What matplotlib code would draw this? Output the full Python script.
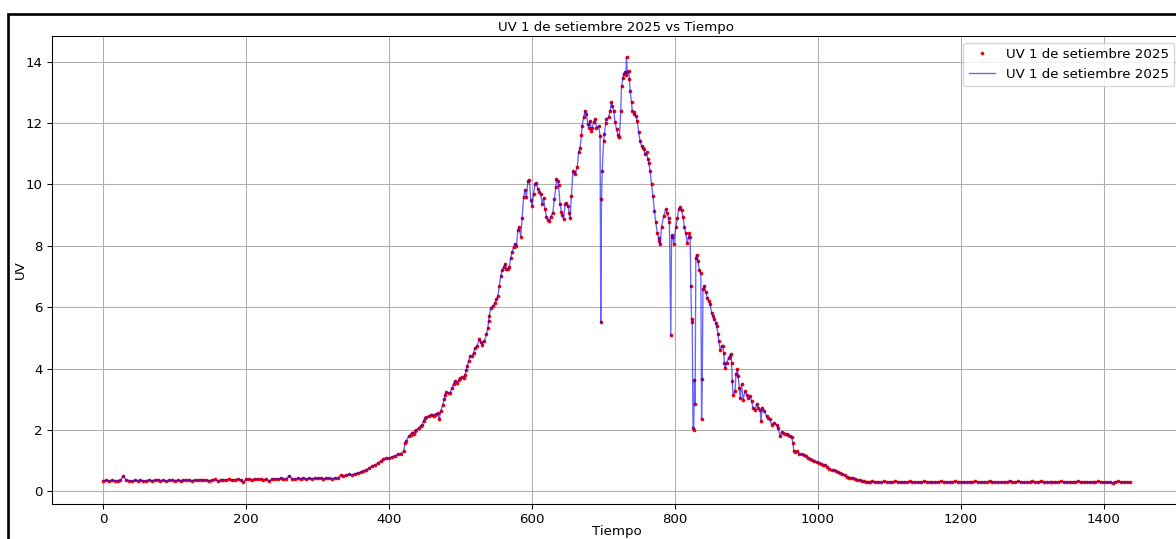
import numpy as np
import matplotlib
matplotlib.use("Agg")
import matplotlib.pyplot as plt
from matplotlib.patches import Rectangle

# ---- data (minutes of the day, UV index) ----
am_start, am_step = 0, 4
am_uv = [0.35, 0.36, 0.33, 0.36, 0.35, 0.34, 0.36, 0.50, 0.36, 0.35, 0.34, 0.36, 0.35, 0.36, 0.34, 0.35,
         0.37, 0.35, 0.36, 0.38, 0.35, 0.36, 0.34, 0.36, 0.37, 0.35, 0.36, 0.34, 0.36, 0.37, 0.36, 0.35,
         0.37, 0.36, 0.38, 0.36, 0.37, 0.35, 0.37, 0.39, 0.32, 0.38, 0.37, 0.38, 0.39, 0.37, 0.38, 0.40,
         0.38, 0.30, 0.39, 0.40, 0.38, 0.41, 0.39, 0.40, 0.38, 0.40, 0.32, 0.40, 0.41, 0.39, 0.42, 0.40,
         0.41, 0.50, 0.41, 0.40, 0.42, 0.41, 0.43, 0.40, 0.42, 0.41, 0.43, 0.42, 0.44, 0.41, 0.43, 0.42,
         0.41, 0.43, 0.42, 0.52, 0.50, 0.53, 0.55, 0.54, 0.57, 0.60, 0.62, 0.66, 0.70, 0.76, 0.82, 0.86,
         0.92, 0.98, 1.04, 1.08, 1.08, 1.12, 1.16, 1.20, 1.23]

day_t = [420, 422, 424, 427, 430, 432, 434, 436, 438, 441, 444, 446, 448, 450, 452, 455, 458, 460, 462, 464,
         466, 468, 470, 472, 475, 477, 478, 480, 483, 485, 488, 490, 492, 495, 497, 499, 502, 504, 506, 508,
         509, 511, 513, 516, 518, 520, 523, 526, 528, 530, 533, 536, 538, 539, 540, 542, 545, 548, 550, 552,
         554, 556, 558, 560, 562, 564, 566, 568, 570, 572, 574, 576, 578, 580, 582, 584, 586, 588, 590, 592,
         594, 596, 598, 600, 602, 604, 606, 608, 610, 612, 614, 616, 618, 620, 622, 624, 626, 629, 631, 633,
         634, 636, 637, 639, 641, 642, 644, 646, 648, 650, 652, 653, 655, 657, 659, 660, 663, 665, 667, 669,
         670, 672, 674, 676, 678, 679, 681, 683, 684, 686, 688, 690, 693, 695, 696, 697, 698, 700, 701, 703,
         704, 707, 709, 711, 712, 714, 716, 718, 720, 721, 722, 724, 725, 727, 728, 730, 731, 732, 733, 735,
         736, 737, 739, 740, 742, 743, 745, 747, 749, 751, 753, 755, 756, 758, 760, 762, 763, 765, 767, 769,
         771, 773, 775, 777, 778, 779, 781, 784, 787, 789, 791, 792, 794, 795, 796, 798, 801, 803, 805, 807,
         809, 811, 813, 815, 817, 819, 820, 821, 822, 823, 824, 825, 826, 827, 828, 829, 830, 832, 834, 836,
         837, 838, 839, 841, 843, 845, 847, 849, 851, 853, 855, 857, 858, 860, 861, 863, 865, 867, 868, 869,
         870, 872, 875, 877, 878, 879, 880, 881, 884, 885, 887, 888, 890, 891, 893, 895, 898, 900, 902, 905,
         907, 909, 912, 914, 916, 919, 920, 922, 925, 928, 930, 933, 935, 938, 942, 944, 947, 949, 951, 954,
         956, 958, 961, 963, 965, 966, 968, 971, 974, 977, 980, 983, 986, 989, 992, 995, 998, 1001, 1004, 1007,
         1010, 1013, 1016, 1019, 1022, 1025, 1028, 1031, 1034, 1037, 1040, 1043, 1046, 1049, 1052, 1055, 1058,
         1061, 1064, 1067, 1070, 1073, 1076]
day_uv = [1.30, 1.57, 1.65, 1.79, 1.85, 1.90, 1.88, 1.95, 2.00, 2.06, 2.12, 2.17, 2.30, 2.39, 2.42, 2.44, 2.48, 2.50, 2.46, 2.50,
          2.52, 2.55, 2.34, 2.61, 2.82, 3.00, 3.15, 3.22, 3.20, 3.20, 3.37, 3.50, 3.59, 3.53, 3.62, 3.69, 3.72, 3.69, 3.80, 3.95,
          4.08, 4.24, 4.40, 4.40, 4.51, 4.67, 4.73, 4.95, 4.85, 4.78, 4.89, 5.11, 5.33, 5.54, 5.71, 5.98, 6.03, 6.14, 6.25, 6.36,
          6.69, 7.00, 7.20, 7.30, 7.40, 7.25, 7.25, 7.30, 7.60, 7.80, 7.95, 8.05, 8.00, 8.50, 8.60, 8.30, 8.90, 9.60, 9.80, 9.60,
          10.10, 10.15, 9.50, 9.30, 9.70, 10.00, 10.05, 9.85, 9.75, 9.70, 9.35, 9.55, 9.20, 8.95, 8.85, 8.80, 8.95, 9.08, 9.52, 9.90,
          10.17, 10.10, 9.98, 9.35, 9.10, 9.00, 8.86, 9.35, 9.38, 9.30, 9.08, 8.90, 9.62, 10.44, 10.40, 10.33, 10.55, 11.04, 11.20, 11.60,
          11.91, 12.18, 12.40, 12.29, 11.95, 11.85, 12.07, 11.75, 11.85, 12.02, 12.13, 11.85, 11.91, 11.58, 5.50, 9.52, 10.44, 11.42, 11.64, 12.00,
          12.13, 12.18, 12.40, 12.67, 12.55, 12.40, 12.02, 11.80, 11.60, 11.55, 11.53, 12.40, 13.20, 13.45, 13.60, 13.65, 13.55, 14.14, 13.65, 13.70,
          13.43, 13.05, 12.67, 12.40, 12.35, 12.29, 12.24, 12.07, 11.69, 11.42, 11.26, 11.20, 11.15, 10.98, 11.04, 10.82, 10.71, 10.44, 10.00, 9.63,
          9.14, 8.76, 8.43, 8.25, 8.16, 8.05, 8.60, 8.97, 9.19, 9.08, 8.90, 8.76, 5.08, 8.27, 8.35, 8.05, 8.60, 8.90, 9.19, 9.25,
          9.15, 8.95, 8.60, 8.40, 8.10, 8.30, 8.40, 8.30, 6.70, 5.60, 5.50, 2.07, 2.00, 3.64, 2.83, 7.60, 7.70, 7.50, 7.20, 7.10,
          2.34, 3.67, 6.60, 6.70, 6.50, 6.30, 6.20, 6.10, 5.82, 5.71, 5.60, 5.49, 5.38, 5.13, 4.90, 4.62, 4.73, 4.73, 4.51, 4.19,
          4.02, 4.19, 4.35, 4.40, 4.46, 4.19, 3.59, 3.15, 3.26, 3.81, 3.97, 3.75, 3.37, 3.04, 3.48, 2.99, 3.26, 3.15, 3.04, 3.10,
          2.94, 2.72, 2.66, 2.83, 2.72, 2.66, 2.28, 2.72, 2.61, 2.45, 2.39, 2.34, 2.17, 2.23, 2.17, 2.07, 1.79, 1.94, 1.90, 1.88,
          1.87, 1.84, 1.79, 1.76, 1.58, 1.30, 1.28, 1.30, 1.22, 1.20, 1.18, 1.15, 1.10, 1.05, 1.02, 0.98, 0.95, 0.92, 0.90, 0.87,
          0.85, 0.80, 0.74, 0.70, 0.68, 0.66, 0.62, 0.60, 0.56, 0.52, 0.48, 0.45, 0.44, 0.42, 0.40, 0.38, 0.36,
          0.34, 0.32, 0.30, 0.31, 0.30, 0.32]

pm_start, pm_step = 1080, 4
pm_uv = [0.30, 0.31, 0.29, 0.32, 0.30, 0.31, 0.30, 0.33, 0.30, 0.29, 0.31, 0.30, 0.32, 0.30, 0.31, 0.29,
         0.30, 0.32, 0.31, 0.30, 0.29, 0.31, 0.30, 0.33, 0.30, 0.31, 0.29, 0.30, 0.32, 0.30, 0.31, 0.30,
         0.29, 0.31, 0.30, 0.32, 0.30, 0.29, 0.31, 0.30, 0.34, 0.30, 0.31, 0.29, 0.30, 0.31, 0.30, 0.35,
         0.31, 0.30, 0.32, 0.30, 0.29, 0.31, 0.30, 0.32, 0.30, 0.31, 0.33, 0.30, 0.29, 0.31, 0.30, 0.31,
         0.30, 0.32, 0.30, 0.29, 0.31, 0.30, 0.31, 0.33, 0.30, 0.31, 0.30, 0.29, 0.31, 0.30, 0.32, 0.30,
         0.31, 0.29, 0.30, 0.28, 0.31, 0.33, 0.30, 0.31, 0.30, 0.30]

label = "UV 1 de setiembre 2025"

am_t = [am_start + am_step * i for i in range(len(am_uv))]
pm_t = [pm_start + pm_step * i for i in range(len(pm_uv))]
minutes = np.array(am_t + day_t + pm_t)
uv = np.array(am_uv + day_uv + pm_uv)

W, H = 1176, 539
DPI = 96
fig = plt.figure(figsize=(W / DPI, H / DPI), dpi=DPI)
ax = fig.add_axes([52 / W, 1 - 504 / H, (1181 - 52) / W, (504 - 36) / H])

ax.plot(minutes, uv, linestyle="none", marker=".", color="red", markersize=3.5, label=label)
ax.plot(minutes, uv, color="blue", linewidth=1, alpha=0.6, label=label)

ax.set_title("UV 1 de setiembre 2025 vs Tiempo", fontsize=10, pad=4)
ax.set_xlabel("Tiempo", fontsize=10, labelpad=-1)
ax.set_ylabel("UV", fontsize=10, labelpad=-1)
ax.tick_params(labelsize=10)
ax.grid(True)
ax.legend(loc="upper right", fontsize=10)

# figure frame (cropped at right and bottom)
fig.patches.append(Rectangle((8 / W, -0.2), 1.2, 1.2 - 14 / H, transform=fig.transFigure,
                             fill=False, edgecolor="black", linewidth=2, clip_on=False))

fig.savefig("out.png", dpi=DPI)
